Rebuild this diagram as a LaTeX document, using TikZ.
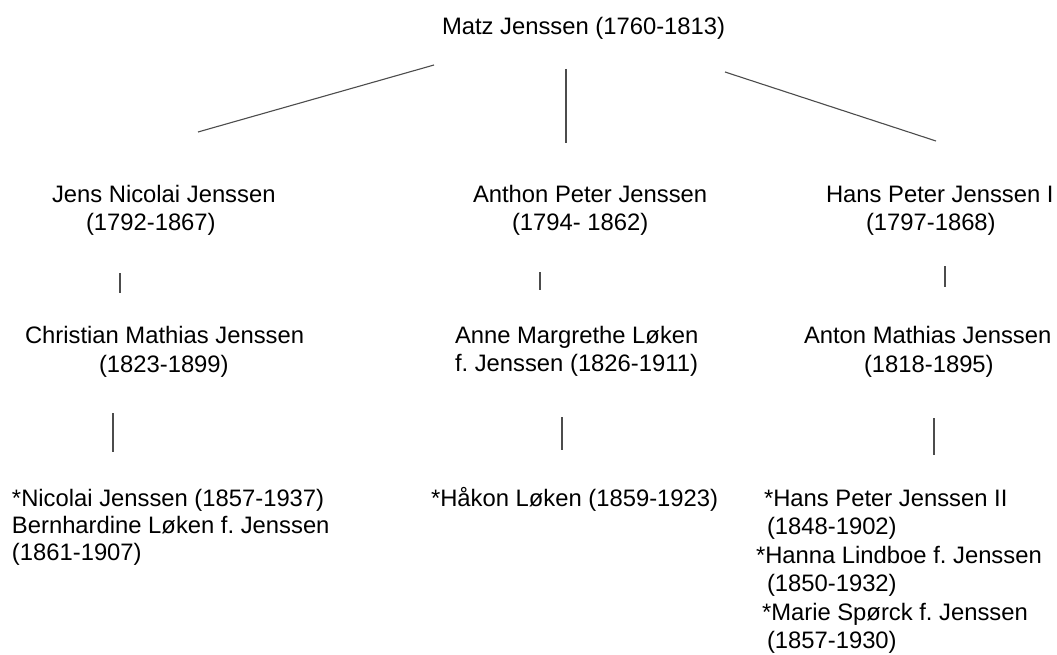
\documentclass[tikz,border=0pt]{standalone}
\usepackage{fontspec}
\setmainfont{Liberation Sans}
\frenchspacing
\begin{document}
\begin{tikzpicture}[x=1pt,y=-1pt,
  txt/.style={anchor=base west,inner sep=0pt,outer sep=0pt,font=\fontsize{23.8}{28}\selectfont,text=black},
  link/.style={draw=black!70,line width=1.1pt}]
\useasboundingbox[fill=white] (0,0) rectangle (1057,655);
% generation 1
\node[txt] (matz) at (442,35) {Matz Jenssen (1760-1813)};
% generation 2
\node[txt] (jens) at (52,203) {Jens Nicolai Jenssen};
\node[txt] (jensd) at (86,230) {(1792-1867)};
\node[txt] (anthon) at (473,203) {Anthon Peter Jenssen};
\node[txt] (anthond) at (512,230) {(1794- 1862)};
\node[txt] (hans) at (826,203) {Hans Peter Jenssen I};
\node[txt] (hansd) at (866,230) {(1797-1868)};
% generation 3
\node[txt] (chr) at (25,343) {Christian Mathias Jenssen};
\node[txt] (chrd) at (99,372) {(1823-1899)};
\node[txt] (anne) at (455,343) {Anne Margrethe Løken};
\node[txt] (anned) at (455,371) {f. Jenssen (1826-1911)};
\node[txt] (anton) at (804,343) {Anton Mathias Jenssen};
\node[txt] (antond) at (864,372) {(1818-1895)};
% generation 4
\node[txt] (nic) at (12,506) {*Nicolai Jenssen (1857-1937)};
\node[txt] (bern) at (12,533) {Bernhardine Løken f. Jenssen};
\node[txt] (bernd) at (12,560) {(1861-1907)};
\node[txt] (hakon) at (431,506) {*Håkon Løken (1859-1923)};
\node[txt] (hans2) at (764,506) {*Hans Peter Jenssen II};
\node[txt] (hans2d) at (767,534) {(1848-1902)};
\node[txt] (hanna) at (756,563) {*Hanna Lindboe f. Jenssen};
\node[txt] (hannad) at (767,591) {(1850-1932)};
\node[txt] (marie) at (762,620) {*Marie Spørck f. Jenssen};
\node[txt] (maried) at (767,648) {(1857-1930)};
% connector end points
\coordinate (mL) at (434,65);  \coordinate (jT) at (198,132);
\coordinate (mC) at (566,69);  \coordinate (aT) at (566,143);
\coordinate (mR) at (725,72);  \coordinate (hT) at (936,141);
\coordinate (jB) at (120,273); \coordinate (cT) at (120,293);
\coordinate (aB) at (540,272); \coordinate (anT) at (540,290);
\coordinate (hB) at (945,266); \coordinate (toT) at (945,287);
\coordinate (cB) at (113,413); \coordinate (nT) at (113,452);
\coordinate (anB) at (562,417); \coordinate (hkT) at (562,450);
\coordinate (toB) at (934,418); \coordinate (h2T) at (934,455);
\draw[link] (mL) -- (jT);
\draw[link] (mC) -- (aT);
\draw[link] (mR) -- (hT);
\draw[link] (jB) -- (cT);
\draw[link] (aB) -- (anT);
\draw[link] (hB) -- (toT);
\draw[link] (cB) -- (nT);
\draw[link] (anB) -- (hkT);
\draw[link] (toB) -- (h2T);
\end{tikzpicture}
\end{document}
